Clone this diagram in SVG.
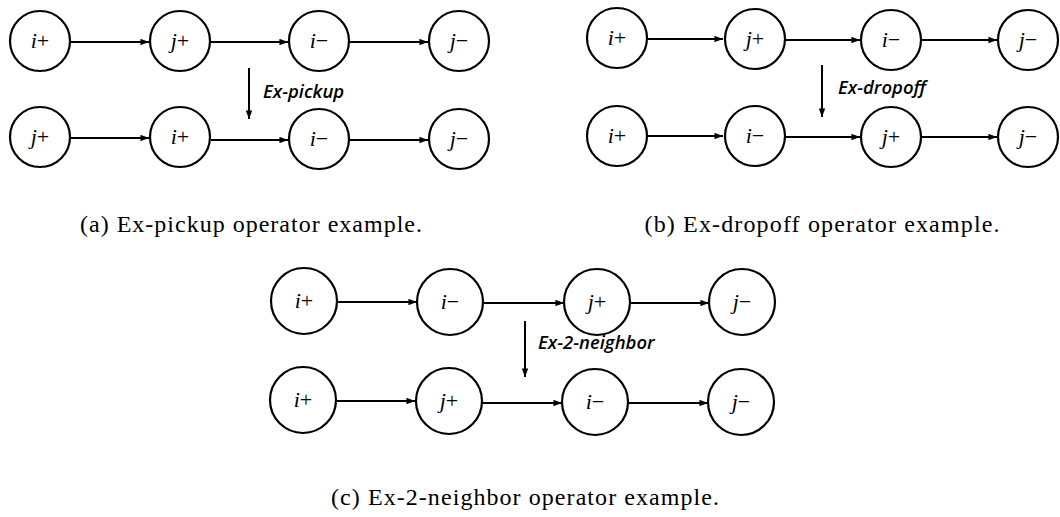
<svg xmlns="http://www.w3.org/2000/svg" width="1060" height="517" viewBox="0 0 1060 517">
<style>
.node circle{fill:#fff;stroke:#000;stroke-width:2.2}
.node text{font-family:"Liberation Serif",serif;font-size:22px;text-anchor:middle;fill:#000}
.it{font-style:italic}
.edge{stroke:#000;stroke-width:2;fill:none;marker-end:url(#ah)}
.op{font-family:"Open Sans",sans-serif;font-style:italic;font-weight:600;font-size:18.5px;fill:#000}
.cap{font-family:"Liberation Serif",serif;font-size:24px;fill:#000;text-anchor:middle}
</style>
<defs>
<marker id="ah" viewBox="0 0 8 6" refX="8" refY="3" markerWidth="4.5" markerHeight="3.2" orient="auto" markerUnits="strokeWidth">
<path d="M0,0 L8,3 L0,6 z" fill="#000"/>
</marker>
</defs>
<rect width="1060" height="517" fill="#fff"/>

<g id="connectors">
<!-- panel a -->
<line class="edge" x1="71" y1="42" x2="149" y2="42"/>
<line class="edge" x1="211" y1="42" x2="288" y2="42"/>
<line class="edge" x1="350" y1="42" x2="428" y2="42"/>
<line class="edge" x1="71" y1="138" x2="149" y2="138"/>
<line class="edge" x1="211" y1="140" x2="288" y2="140"/>
<line class="edge" x1="350" y1="140" x2="428" y2="140"/>
<line class="edge" x1="249" y1="68" x2="249" y2="119"/>
<!-- panel b -->
<line class="edge" x1="648" y1="39" x2="723" y2="39"/>
<line class="edge" x1="786" y1="40" x2="860" y2="40"/>
<line class="edge" x1="922" y1="40" x2="997" y2="40"/>
<line class="edge" x1="648" y1="136" x2="723" y2="136"/>
<line class="edge" x1="786" y1="137" x2="860" y2="137"/>
<line class="edge" x1="922" y1="137" x2="997" y2="137"/>
<line class="edge" x1="822" y1="65" x2="822" y2="117"/>
<!-- panel c -->
<line class="edge" x1="337" y1="302" x2="417" y2="302"/>
<line class="edge" x1="484" y1="303" x2="564" y2="303"/>
<line class="edge" x1="631" y1="303" x2="709" y2="303"/>
<line class="edge" x1="337" y1="401" x2="415" y2="401"/>
<line class="edge" x1="482" y1="403" x2="562" y2="403"/>
<line class="edge" x1="628" y1="403" x2="708" y2="403"/>
<line class="edge" x1="525" y1="321" x2="525" y2="377"/>
</g>

<!-- panel a nodes -->
<g id="a-r1-iplus" class="node"><circle cx="40" cy="41" r="30"/><text x="40" y="48"><tspan class="it">i</tspan>+</text></g>
<g id="a-r1-jplus" class="node"><circle cx="180" cy="41" r="30"/><text x="180" y="48"><tspan class="it">j</tspan>+</text></g>
<g id="a-r1-iminus" class="node"><circle cx="319" cy="41" r="30"/><text x="319" y="48"><tspan class="it">i</tspan>−</text></g>
<g id="a-r1-jminus" class="node"><circle cx="459" cy="41" r="30"/><text x="459" y="48"><tspan class="it">j</tspan>−</text></g>
<g id="a-r2-jplus" class="node"><circle cx="40" cy="137" r="30"/><text x="40" y="144"><tspan class="it">j</tspan>+</text></g>
<g id="a-r2-iplus" class="node"><circle cx="180" cy="137" r="30"/><text x="180" y="144"><tspan class="it">i</tspan>+</text></g>
<g id="a-r2-iminus" class="node"><circle cx="319" cy="139" r="30"/><text x="319" y="146"><tspan class="it">i</tspan>−</text></g>
<g id="a-r2-jminus" class="node"><circle cx="459" cy="139" r="30"/><text x="459" y="146"><tspan class="it">j</tspan>−</text></g>
<g id="a-label"><text class="op" x="263" y="98">Ex-pickup</text></g>

<!-- panel b nodes -->
<g id="b-r1-iplus" class="node"><circle cx="617" cy="38" r="30"/><text x="617" y="45"><tspan class="it">i</tspan>+</text></g>
<g id="b-r1-jplus" class="node"><circle cx="755" cy="39" r="30"/><text x="755" y="46"><tspan class="it">j</tspan>+</text></g>
<g id="b-r1-iminus" class="node"><circle cx="891" cy="40" r="30"/><text x="891" y="47"><tspan class="it">i</tspan>−</text></g>
<g id="b-r1-jminus" class="node"><circle cx="1028" cy="40" r="30"/><text x="1028" y="47"><tspan class="it">j</tspan>−</text></g>
<g id="b-r2-iplus" class="node"><circle cx="617" cy="136" r="30"/><text x="617" y="143"><tspan class="it">i</tspan>+</text></g>
<g id="b-r2-iminus" class="node"><circle cx="755" cy="136" r="30"/><text x="755" y="143"><tspan class="it">i</tspan>−</text></g>
<g id="b-r2-jplus" class="node"><circle cx="891" cy="137" r="30"/><text x="891" y="144"><tspan class="it">j</tspan>+</text></g>
<g id="b-r2-jminus" class="node"><circle cx="1028" cy="137" r="30"/><text x="1028" y="144"><tspan class="it">j</tspan>−</text></g>
<g id="b-label"><text class="op" x="838" y="94">Ex-dropoff</text></g>

<!-- panel c nodes -->
<g id="c-r1-iplus" class="node"><circle cx="304" cy="301" r="33"/><text x="304" y="308"><tspan class="it">i</tspan>+</text></g>
<g id="c-r1-iminus" class="node"><circle cx="450" cy="302" r="33"/><text x="450" y="309"><tspan class="it">i</tspan>−</text></g>
<g id="c-r1-jplus" class="node"><circle cx="597" cy="302" r="33"/><text x="597" y="309"><tspan class="it">j</tspan>+</text></g>
<g id="c-r1-jminus" class="node"><circle cx="742" cy="302" r="33"/><text x="742" y="309"><tspan class="it">j</tspan>−</text></g>
<g id="c-r2-iplus" class="node"><circle cx="303" cy="400" r="33"/><text x="303" y="407"><tspan class="it">i</tspan>+</text></g>
<g id="c-r2-jplus" class="node"><circle cx="449" cy="401" r="33"/><text x="449" y="408"><tspan class="it">j</tspan>+</text></g>
<g id="c-r2-iminus" class="node"><circle cx="595" cy="402" r="33"/><text x="595" y="409"><tspan class="it">i</tspan>−</text></g>
<g id="c-r2-jminus" class="node"><circle cx="741" cy="402" r="33"/><text x="741" y="409"><tspan class="it">j</tspan>−</text></g>
<g id="c-label"><text class="op" x="538" y="349">Ex-2-neighbor</text></g>

<g id="captions">
<text class="cap" x="251" y="232" textLength="342">(a) Ex-pickup operator example.</text>
<text class="cap" x="822" y="232" textLength="355">(b) Ex-dropoff operator example.</text>
<text class="cap" x="525" y="505" textLength="388">(c) Ex-2-neighbor operator example.</text>
</g>
</svg>
